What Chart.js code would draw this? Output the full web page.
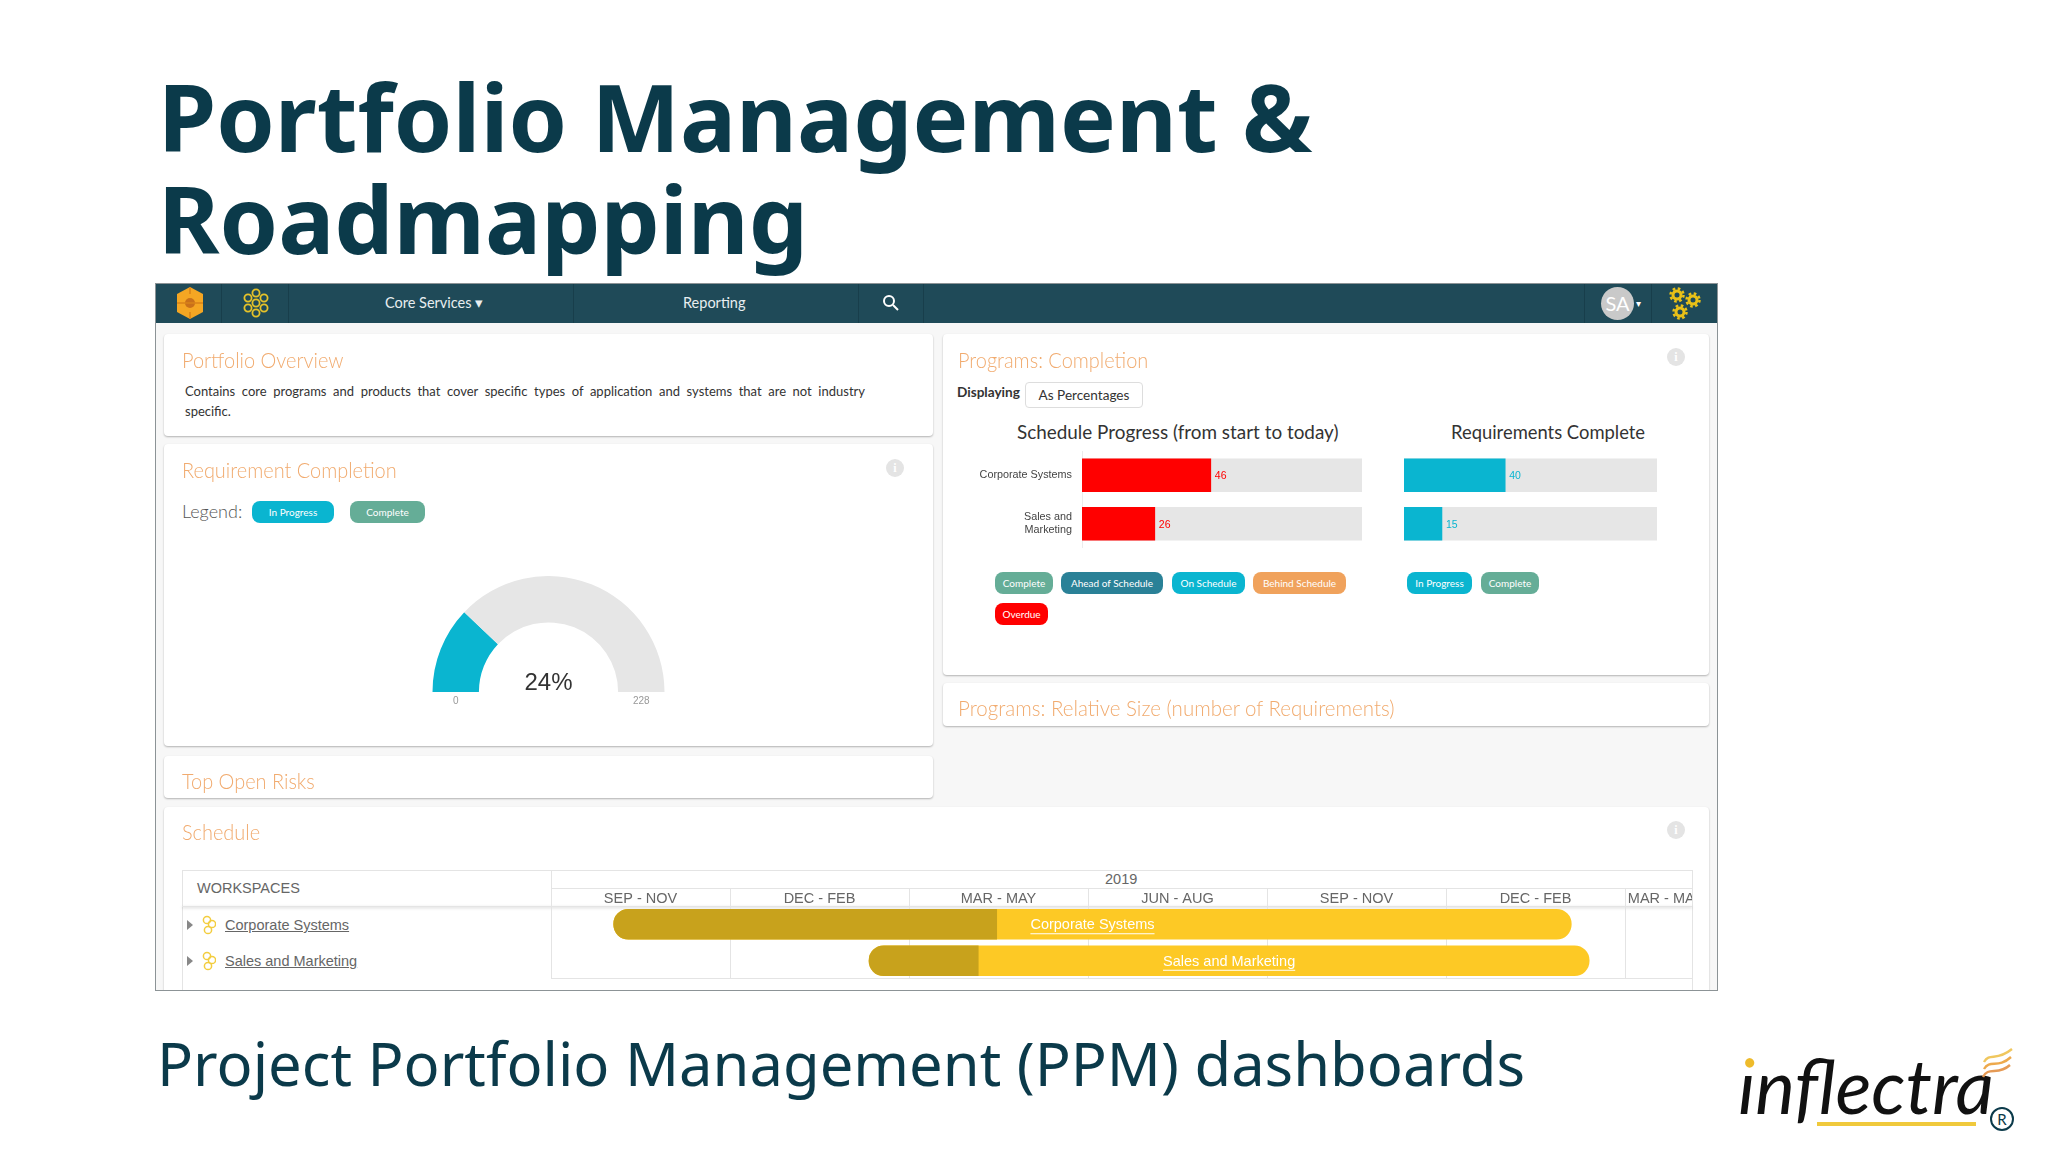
<!DOCTYPE html>
<html>
<head>
<meta charset="utf-8">
<script src="https://cdn.jsdelivr.net/npm/chart.js@4"></script>
<style>
html, body { margin: 0; padding: 0; background: #fff; }
body { width: 2048px; height: 1152px; position: relative; overflow: hidden; font-family: Lato, sans-serif; }
.abs, .card, .head, .pill, .line, .info, canvas { position: absolute; }
.slide-title { position: absolute; left: 158px; top: 65px; margin: 0; font: 700 93.8px/102px "Noto Sans"; color: #0b3a4a; white-space: nowrap; }
.slide-sub { position: absolute; left: 157px; top: 1023px; font: 400 59.7px/80px "Noto Sans"; color: #0b3a4a; white-space: nowrap; }
#shot { position: absolute; left: 155px; top: 283px; width: 1563px; height: 708px; background: #f7f7f7; overflow: hidden; }
#shotInner { position: absolute; left: -155px; top: -283px; width: 2048px; height: 1152px; }
#frame { position: absolute; left: 155px; top: 283px; width: 1561px; height: 706px; border: 1px solid #8c9396; }
.nav { position: absolute; left: 155px; top: 283px; width: 1563px; height: 40px; background: #1f4a58; }
.navsep { position: absolute; top: 283px; width: 1px; height: 40px; background: #183e4b; }
.navtxt { position: absolute; top: 293px; color: #e8eef0; font: 400 14.5px/20px Lato; white-space: nowrap; }
.card { background: #fff; border-radius: 4px; box-shadow: 0 1px 2px rgba(0,0,0,.28); }
.head { font: 300 21px/26px Lato; color: #f1ab6f; white-space: nowrap; transform: scaleX(.95); transform-origin: left center; }
.pill { height: 22px; border-radius: 8px; color: #fff; font: 400 10px/22px Lato; text-align: center; white-space: nowrap; }
.info { width: 18px; height: 18px; border-radius: 50%; background: #e4e4e4; color: #fff; font: 700 12px/18px "Liberation Serif"; text-align: center; }
.line { background: #e4e4e4; }
.gantt-txt { position: absolute; font: 400 14.5px/20px "Liberation Sans"; color: #666; white-space: nowrap; }
.logo-i { background: linear-gradient(#eebb2b 0 33px, #111 33px); -webkit-background-clip: text; background-clip: text; color: transparent; }
</style>
</head>
<body>
<h1 class="slide-title">Portfolio Management &amp;<br>Roadmapping</h1>

<div id="shot"><div id="shotInner">
  <div class="nav"></div>
  <div class="navsep" style="left:221px"></div>
  <div class="navsep" style="left:288px"></div>
  <div class="navsep" style="left:573px"></div>
  <div class="navsep" style="left:858px"></div>
  <div class="navsep" style="left:923px"></div>
  <div class="navsep" style="left:1584px"></div>
  <div class="navsep" style="left:1651px"></div>
  <svg class="abs" style="left:174px;top:286px" width="32" height="34" viewBox="0 0 32 34">
    <path d="M16 1 L29 8 V26 L16 33 L3 26 V8 Z" fill="#f5a623"/>
    <circle cx="16" cy="17" r="5" fill="#c9701a"/>
    <path d="M3 17 H29 M16 1 V8 M16 26 V33" stroke="#d98218" stroke-width="1.5"/>
  </svg>
  <svg class="abs" style="left:241px;top:288px" width="30" height="30" viewBox="0 0 30 30" fill="none" stroke="#e6c229" stroke-width="1.8">
    <circle cx="15" cy="5" r="3.6"/><circle cx="7" cy="10" r="3.6"/><circle cx="23" cy="10" r="3.6"/>
    <circle cx="15" cy="15" r="3.6"/><circle cx="7" cy="20" r="3.6"/><circle cx="23" cy="20" r="3.6"/><circle cx="15" cy="25" r="3.6"/>
  </svg>
  <div class="navtxt" style="left:385px">Core Services ▾</div>
  <div class="navtxt" style="left:683px">Reporting</div>
  <svg class="abs" style="left:882px;top:294px" width="18" height="18" viewBox="0 0 18 18" fill="none" stroke="#fff" stroke-width="2">
    <circle cx="7" cy="7" r="5"/><path d="M11 11 L16 16"/>
  </svg>
  <div class="abs" style="left:1601px;top:287px;width:33px;height:33px;border-radius:50%;background:#c9c9c9;color:#fff;font:400 20px/33px Lato;text-align:center">SA</div>
  <div class="abs" style="left:1636px;top:296px;color:#fff;font:400 10px/14px Lato">▾</div>
  <svg class="abs" style="left:1668px;top:286px" width="34" height="34" viewBox="0 0 34 34" fill="none" stroke="#eac117">
    <circle cx="9" cy="9" r="4" stroke-width="3"/><circle cx="9" cy="9" r="6.5" stroke-width="2.5" stroke-dasharray="2.6 2.5"/>
    <circle cx="25" cy="14" r="4" stroke-width="3"/><circle cx="25" cy="14" r="6.5" stroke-width="2.5" stroke-dasharray="2.6 2.5"/>
    <circle cx="12" cy="26" r="4" stroke-width="3"/><circle cx="12" cy="26" r="6.5" stroke-width="2.5" stroke-dasharray="2.6 2.5"/>
  </svg>

  <!-- left column -->
  <div class="card" style="left:164px;top:334px;width:769px;height:102px"></div>
  <div class="head" style="left:182px;top:347px">Portfolio Overview</div>
  <div class="abs" style="left:185px;top:382px;width:680px;font:400 13px/19.5px Lato;color:#333">
    <div style="text-align:justify;text-align-last:justify">Contains core programs and products that cover specific types of application and systems that are not industry</div>
    <div>specific.</div>
  </div>

  <div class="card" style="left:164px;top:444px;width:769px;height:302px"></div>
  <div class="head" style="left:182px;top:457px">Requirement Completion</div>
  <div class="info" style="left:886px;top:459px">i</div>
  <div class="abs" style="left:182px;top:499px;font:300 18px/24px Lato;color:#555">Legend:</div>
  <div class="pill" style="left:252px;top:501px;width:82px;background:#0ab5d0">In Progress</div>
  <div class="pill" style="left:350px;top:501px;width:75px;background:#65ad97">Complete</div>
  <canvas id="gaugeChart" style="left:420px;top:576px" width="257" height="136"></canvas>

  <div class="card" style="left:164px;top:756px;width:769px;height:42px"></div>
  <div class="head" style="left:182px;top:768px">Top Open Risks</div>

  <!-- right column -->
  <div class="card" style="left:943px;top:334px;width:766px;height:341px"></div>
  <div class="head" style="left:958px;top:347px">Programs: Completion</div>
  <div class="info" style="left:1667px;top:348px">i</div>
  <div class="abs" style="left:957px;top:383px;font:700 13.6px/18px Lato;color:#333">Displaying</div>
  <div class="abs" style="left:1025px;top:382px;width:116px;height:24px;border:1px solid #ddd;border-radius:4px;font:400 13.6px/25px Lato;color:#333;text-align:center">As Percentages</div>
  <div class="abs" style="left:1017px;top:420px;font:400 18.9px/24px Lato;color:#333;white-space:nowrap">Schedule Progress (from start to today)</div>
  <div class="abs" style="left:1451px;top:420px;font:400 18.4px/24px Lato;color:#333;white-space:nowrap">Requirements Complete</div>
  <canvas id="scheduleChart" style="left:940px;top:451px" width="422" height="97"></canvas>
  <canvas id="requirementsChart" style="left:1404px;top:451px" width="253" height="97"></canvas>
  <div class="pill" style="left:995px;top:572px;width:58px;background:#65ad97">Complete</div>
  <div class="pill" style="left:1061px;top:572px;width:102px;background:#2a8197">Ahead of Schedule</div>
  <div class="pill" style="left:1172px;top:572px;width:73px;background:#0ab5d0">On Schedule</div>
  <div class="pill" style="left:1253px;top:572px;width:93px;background:#f0a25c">Behind Schedule</div>
  <div class="pill" style="left:995px;top:603px;width:53px;background:#f00">Overdue</div>
  <div class="pill" style="left:1407px;top:572px;width:65px;background:#0ab5d0">In Progress</div>
  <div class="pill" style="left:1481px;top:572px;width:58px;background:#65ad97">Complete</div>

  <div class="card" style="left:943px;top:683px;width:766px;height:43px"></div>
  <div class="head" style="left:958px;top:695px;transform:scaleX(.977)">Programs: Relative Size (number of Requirements)</div>

  <!-- schedule -->
  <div class="card" style="left:164px;top:807px;width:1545px;height:200px"></div>
  <div class="head" style="left:182px;top:819px">Schedule</div>
  <div class="info" style="left:1667px;top:821px">i</div>
  <div class="line" style="left:182px;top:870px;width:1511px;height:1px"></div>
  <div class="line" style="left:182px;top:870px;width:1px;height:121px"></div>
  <div class="line" style="left:551px;top:870px;width:1px;height:109px"></div>
  <div class="line" style="left:1692px;top:870px;width:1px;height:121px"></div>
  <div class="line" style="left:551px;top:888px;width:1141px;height:1px"></div>
  <div class="line" style="left:551px;top:978px;width:1141px;height:1px"></div>
  <div class="line" style="left:182px;top:906px;width:1510px;height:1px;box-shadow:0 1px 3px rgba(0,0,0,.25)"></div>
  <div class="gantt-txt" style="left:197px;top:878px">WORKSPACES</div>
  <div class="gantt-txt" style="left:1105px;top:869px">2019</div>
  <div id="workspaceRows"></div>
  <div class="abs" style="left:551px;top:888px;width:1141px;height:91px;overflow:hidden">
    <canvas id="ganttChart" style="left:0;top:0" width="1253" height="91"></canvas>
  </div>
</div></div>
<div id="frame"></div>

<div class="slide-sub">Project Portfolio Management (PPM) dashboards</div>

<!-- logo -->
<div class="abs" style="left:1738px;top:1040px;font:italic 400 75px/90px Lato;color:#111;white-space:nowrap"><span class="logo-i">i</span>nflectra</div>
<div class="abs" style="left:1817px;top:1122px;width:159px;height:4px;background:#f0c93c"></div>
<div class="abs" style="left:1990px;top:1107px;width:20px;height:20px;border:2px solid #0b3a4a;border-radius:50%;color:#0b3a4a;font:400 15px/20px Lato;text-align:center">R</div>
<svg class="abs" style="left:1982px;top:1046px" width="32" height="36" viewBox="0 0 32 36" fill="none" stroke-width="2.4">
  <path d="M2 16 C8 6 14 16 30 3" stroke="#f0c75e"/>
  <path d="M2 23 C8 13 16 23 29 11" stroke="#eda94c"/>
  <path d="M1 31 C6 20 16 30 28 19" stroke="#e59a55"/>
</svg>

<script>
// values
const programs = ['Corporate Systems', ['Sales and', 'Marketing']];
const scheduleProgress = [46, 26];
const requirementsComplete = [40, 15];
const fullTrack = [100, 100];

const gaugeValues = [55, 173];
const gaugeMin = '0';
const gaugeMax = '228';
const gaugeText = '24%';

const quarterLabels = ['SEP - NOV', 'DEC - FEB', 'MAR - MAY', 'JUN - AUG', 'SEP - NOV', 'DEC - FEB', 'MAR - MAY'];
const workspaces = ['Corporate Systems', 'Sales and Marketing'];
// months counted from the left edge of the first quarter
const ganttStart = [1.05, 5.33];
const ganttDone = [7.47, 7.16];
const ganttEnd = [17.1, 17.4];

const TEAL = '#0ab5d0', RED = '#ff0000', TRACK = '#e6e6e6';
const LINE = '#e4e4e4';

// axis labels must not pull the plot area in, the plot has to sit on exact pixels
const noScalePadding = (scale) => {
    scale.paddingTop = scale.paddingBottom = scale.paddingLeft = scale.paddingRight = 0;
};

// left column of the schedule table
workspaces.forEach((name, i) => {
    const y = 915 + i * 36;
    document.getElementById('workspaceRows').insertAdjacentHTML('beforeend',
        `<div class="abs" style="left:187px;top:${y + 5}px;width:0;height:0;border-left:6px solid #888;border-top:5px solid transparent;border-bottom:5px solid transparent"></div>
         <svg class="abs" style="left:202px;top:${y}px" width="14" height="20" viewBox="0 0 14 20" fill="none" stroke="#f3cd3f" stroke-width="1.5"><circle cx="5" cy="5" r="3.6"/><circle cx="10" cy="9" r="3.6"/><circle cx="6" cy="15" r="3.6"/></svg>
         <div class="gantt-txt" style="left:225px;top:${y}px;text-decoration:underline">${name}</div>`);
});

const gaugeLabels = {
    id: 'gaugeLabels',
    afterDraw(chart) {
        const ctx = chart.ctx;
        const arc = chart.getDatasetMeta(0).data[0];
        const mid = (arc.innerRadius + arc.outerRadius) / 2;
        ctx.save();
        ctx.textAlign = 'center';
        ctx.textBaseline = 'middle';
        ctx.fillStyle = '#999';
        ctx.font = '10px "Liberation Sans"';
        ctx.fillText(gaugeMin, arc.x - mid, arc.y + 9);
        ctx.fillText(gaugeMax, arc.x + mid, arc.y + 9);
        ctx.fillStyle = '#333';
        ctx.font = '24px "Liberation Sans"';
        ctx.fillText(gaugeText, arc.x, arc.y - 9);
        ctx.restore();
    }
};

new Chart(document.getElementById('gaugeChart'), {
    type: 'doughnut',
    data: {
        labels: ['Done', 'Remaining'],
        datasets: [{ data: gaugeValues, backgroundColor: [TEAL, TRACK], borderWidth: 0 }]
    },
    options: {
        responsive: false,
        animation: false,
        rotation: -90,
        circumference: 180,
        cutout: '60%',
        layout: { padding: { left: 12, right: 12, top: 0, bottom: 20 } },
        plugins: { legend: { display: false }, tooltip: { enabled: false } }
    },
    plugins: [gaugeLabels]
});

const valueLabels = {
    id: 'valueLabels',
    afterDatasetsDraw(chart) {
        const ctx = chart.ctx;
        const set = chart.data.datasets[0];
        ctx.save();
        ctx.fillStyle = set.backgroundColor;
        ctx.font = '10.5px "Liberation Sans"';
        ctx.textBaseline = 'middle';
        chart.getDatasetMeta(0).data.forEach((bar, i) => ctx.fillText(set.data[i], bar.x + 4, bar.y + 1));
        ctx.restore();
    }
};

function progressChart(id, values, color, axisWidth) {
    return new Chart(document.getElementById(id), {
        type: 'bar',
        data: {
            labels: programs,
            datasets: [
                { data: values, backgroundColor: color, barThickness: 33, grouped: false },
                { data: fullTrack, backgroundColor: TRACK, barThickness: 33, grouped: false }
            ]
        },
        options: {
            indexAxis: 'y',
            responsive: false,
            animation: false,
            layout: { padding: 0 },
            scales: {
                x: { display: false, min: 0, max: 100 },
                y: {
                    display: axisWidth > 0,
                    afterFit: (scale) => { scale.width = axisWidth; noScalePadding(scale); },
                    grid: { display: false },
                    border: { color: '#ececec' },
                    ticks: { color: '#444', font: { family: 'Liberation Sans', size: 10.8 }, padding: 2 }
                }
            },
            plugins: { legend: { display: false }, tooltip: { enabled: false } }
        },
        plugins: [valueLabels]
    });
}

progressChart('scheduleChart', scheduleProgress, RED, 142);
progressChart('requirementsChart', requirementsComplete, TEAL, 0);

const ganttBarLabels = {
    id: 'ganttBarLabels',
    afterDatasetsDraw(chart) {
        const ctx = chart.ctx;
        ctx.save();
        ctx.font = '14.5px "Liberation Sans"';
        ctx.textAlign = 'center';
        ctx.textBaseline = 'middle';
        ctx.fillStyle = '#fff';
        ctx.strokeStyle = '#fff';
        chart.getDatasetMeta(1).data.forEach((bar, i) => {
            const cx = (bar.x + bar.base) / 2;
            const w = ctx.measureText(workspaces[i]).width;
            ctx.fillText(workspaces[i], cx, bar.y + 1);
            ctx.beginPath();
            ctx.moveTo(cx - w / 2, bar.y + 9.5);
            ctx.lineTo(cx + w / 2, bar.y + 9.5);
            ctx.stroke();
        });
        ctx.restore();
    }
};

new Chart(document.getElementById('ganttChart'), {
    type: 'bar',
    data: {
        labels: workspaces,
        datasets: [
            {
                data: workspaces.map((_, i) => [ganttStart[i], ganttDone[i]]),
                backgroundColor: '#c8a21c',
                barThickness: 30,
                grouped: false,
                borderSkipped: false,
                borderRadius: { topLeft: 15, bottomLeft: 15, topRight: 0, bottomRight: 0 }
            },
            {
                data: workspaces.map((_, i) => [ganttStart[i], ganttEnd[i]]),
                backgroundColor: '#fdc925',
                barThickness: 30,
                grouped: false,
                borderSkipped: false,
                borderRadius: 15
            }
        ]
    },
    options: {
        indexAxis: 'y',
        responsive: false,
        animation: false,
        layout: { padding: 0 },
        scales: {
            y: { display: false },
            x: {
                position: 'top',
                min: 0,
                max: 21,
                afterFit: (scale) => { scale.height = 18; noScalePadding(scale); },
                // grid line on each quarter edge, label in the middle of each quarter
                afterBuildTicks: (scale) => {
                    const ticks = [];
                    quarterLabels.forEach((_, i) => {
                        ticks.push({ value: i * 3 });
                        ticks.push({ value: i === 6 ? 18.68 : i * 3 + 1.5 });
                    });
                    scale.ticks = ticks;
                },
                grid: {
                    color: (c) => (c.index % 2 === 0 ? LINE : 'transparent'),
                    tickColor: (c) => (c.index % 2 === 0 ? LINE : 'transparent'),
                    tickLength: 18
                },
                border: { display: false },
                ticks: {
                    autoSkip: false,
                    maxRotation: 0,
                    padding: -20,
                    color: '#666',
                    font: { family: 'Liberation Sans', size: 14.5 },
                    callback: (v, i) => (i % 2 === 1 ? quarterLabels[(i - 1) / 2] : '')
                }
            }
        },
        plugins: { legend: { display: false }, tooltip: { enabled: false } }
    },
    plugins: [ganttBarLabels]
});
</script>
</body>
</html>
